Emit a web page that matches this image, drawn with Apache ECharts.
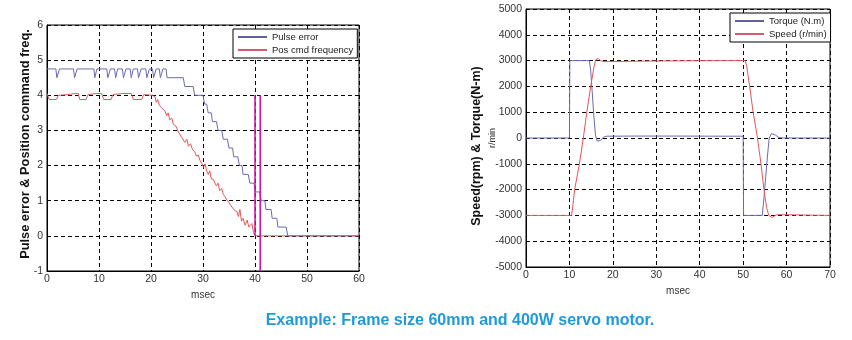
<!DOCTYPE html>
<html>
<head>
<meta charset="utf-8">
<style>
  html, body { margin: 0; padding: 0; background: #fff; }
  #chart { width: 852px; height: 340px; }
</style>
<script src="https://cdn.jsdelivr.net/npm/echarts@6/dist/echarts.min.js"></script>
</head>
<body>
<div id="chart"></div>
<script>
// ---- Left panel: pulse error and position command frequency (msec) ----
const leftXTicks = [0, 10, 20, 30, 40, 50, 60];
const leftYTicks = [-1, 0, 1, 2, 3, 4, 5, 6];

const pulseError = [
  [0, 4.75], [1.7, 4.75], [1.9, 4.5], [2.2, 4.5], [2.4, 4.75],
  [5.1, 4.75], [5.3, 4.5], [5.6, 4.5], [5.8, 4.75],
  [9.0, 4.75], [9.2, 4.5], [9.4, 4.5], [9.6, 4.75],
  [11.5, 4.75], [11.7, 4.5], [12.0, 4.5], [12.2, 4.75],
  [13.0, 4.75], [13.2, 4.5], [13.4, 4.5], [13.6, 4.75],
  [14.5, 4.75], [14.7, 4.5], [15.0, 4.5], [15.2, 4.75],
  [16.0, 4.75], [16.2, 4.5], [16.4, 4.5], [16.6, 4.75],
  [17.4, 4.75], [17.6, 4.5], [17.9, 4.5], [18.1, 4.75],
  [19.0, 4.75], [19.2, 4.5], [19.5, 4.5], [19.7, 4.75],
  [20.3, 4.75], [20.5, 4.5], [20.8, 4.5], [21.0, 4.75],
  [21.6, 4.75], [21.8, 4.5], [22.1, 4.5], [22.3, 4.75],
  [22.9, 4.75], [23.1, 4.5], [26.2, 4.5], [26.5, 4.25], [28.1, 4.25],
  [28.4, 4.0], [30.0, 4.0], [30.3, 3.75], [30.7, 3.75], [31.0, 3.5],
  [31.6, 3.5], [31.8, 3.25], [32.6, 3.25], [32.9, 3.0], [33.6, 3.0],
  [33.9, 2.75], [34.7, 2.75], [35.0, 2.5], [35.7, 2.5], [35.9, 2.25],
  [36.7, 2.25], [37.0, 2.0], [37.5, 2.0], [37.7, 1.75], [38.7, 1.75],
  [39.0, 1.5], [39.8, 1.5], [40.1, 1.25], [40.9, 1.25], [41.2, 1.0],
  [41.9, 1.0], [42.1, 0.75], [43.1, 0.75], [43.3, 0.5], [44.2, 0.5],
  [44.4, 0.25], [46.0, 0.25], [46.3, 0], [60, 0]
];

const posCmdFreq = [
  [0, 4.05], [0.4, 3.88], [1.8, 3.88], [2.2, 4.0], [4.0, 4.02], [5.5, 4.05],
  [6.0, 4.05], [6.3, 3.88], [7.5, 3.88], [7.9, 4.02], [9.5, 4.05], [10.5, 4.05],
  [10.9, 3.88], [12.3, 3.88], [12.7, 4.02], [14.5, 4.05], [16.2, 4.05],
  [16.6, 3.88], [18.2, 3.88], [18.6, 4.02], [20.3, 4.0],
  [20.8, 3.95], [21.0, 3.8], [21.3, 3.88], [21.6, 3.72], [22.0, 3.65],
  [22.3, 3.6], [22.7, 3.55], [23.0, 3.42], [23.3, 3.5], [23.6, 3.3],
  [24.0, 3.35], [24.3, 3.17], [24.8, 3.12], [25.3, 2.95], [25.6, 3.0],
  [25.9, 2.8], [26.2, 2.85], [26.5, 2.66], [26.9, 2.75], [27.2, 2.55],
  [27.6, 2.62], [28.0, 2.45], [28.4, 2.4], [28.7, 2.27], [29.1, 2.3],
  [29.4, 2.15], [29.8, 2.05], [30.1, 1.95], [30.4, 2.05], [30.7, 1.85],
  [31.0, 1.75], [31.3, 1.85], [31.6, 1.62], [32.0, 1.6], [32.3, 1.5],
  [32.6, 1.42], [32.9, 1.5], [33.2, 1.28], [33.6, 1.35], [33.9, 1.18],
  [34.3, 1.1], [34.6, 1.02], [35.0, 0.95], [35.4, 0.85], [35.7, 0.9],
  [36.1, 0.72], [36.5, 0.7], [36.8, 0.55], [37.1, 0.75], [37.4, 0.42],
  [37.7, 0.5], [38.1, 0.3], [38.5, 0.45], [38.8, 0.25], [39.1, 0.2],
  [39.4, 0.35], [39.7, 0.1], [40.0, 0], [60, 0]
];

// command pulse edges
const cmdEdgeA = [[40, 4], [40, 0]];
const cmdEdgeB = [[41, 4], [41, -1]];

// ---- Right panel: torque and speed (msec) ----
const rightXTicks = [0, 10, 20, 30, 40, 50, 60, 70];
const rightYTicks = [-5000, -4000, -3000, -2000, -1000, 0, 1000, 2000, 3000, 4000, 5000];

const torque = [
  [0, 0], [10.0, 0], [10.1, 3000], [14.6, 3000], [14.9, 2600], [15.2, 1900],
  [15.6, 900], [16.0, 100], [16.4, -120], [16.8, -160], [17.2, -90],
  [17.8, 30], [18.6, 70], [25, 75], [35, 75], [45, 70], [50.0, 70],
  [50.1, -3000], [54.4, -3000], [54.8, -2300], [55.2, -1500], [55.6, -700],
  [56.0, 0], [56.5, 170], [56.9, 200], [57.4, 120], [58.2, 20], [59.2, 0], [70, 0]
];

const speed = [
  [0, -3000], [10.5, -3000], [10.8, -2600], [11.2, -2000], [12.3, -1000],
  [13.2, 0], [14.0, 1000], [14.9, 2000], [15.7, 2800], [16.1, 3040],
  [16.6, 3080], [17.1, 3010], [17.7, 2960], [20, 2965], [30, 2985],
  [40, 2995], [50.5, 3000], [50.8, 2800], [51.5, 2000], [52.3, 1000],
  [53.3, 0], [54.1, -1000], [54.8, -2000], [55.4, -2700], [55.9, -3000],
  [56.6, -3080], [57.2, -3020], [57.9, -2970], [62, -2980], [70, -3000]
];

const FONT = '"Liberation Sans", Arial, sans-serif';
const BLUE = '#6a6ab4';
const RED = '#e2585c';
const MAGENTA = '#cc1aa0';

function gridLine() {
  return { show: true, lineStyle: { color: '#000', width: 1, type: [4, 3] } };
}
function valueAxis(ticks, gridIndex, isX, extra) {
  return Object.assign({
    type: 'value',
    gridIndex: gridIndex,
    min: ticks[0],
    max: ticks[ticks.length - 1],
    interval: ticks[1] - ticks[0],
    axisLine: { show: true, onZero: false, lineStyle: { color: '#000', width: 1 } },
    axisTick: { show: false },
    splitLine: gridLine(),
    axisLabel: {
      color: '#333', fontSize: 10.5, fontFamily: FONT,
      margin: isX ? 3 : 4, showMinLabel: true, showMaxLabel: true,
      formatter: function (v) { return String(v); }
    }
  }, extra || {});
}

const chart = echarts.init(document.getElementById('chart'), null, { renderer: 'canvas' });

chart.setOption({
  animation: false,
  backgroundColor: '#fff',
  grid: [
    { left: 47, top: 25, width: 312, height: 246, show: true, borderColor: '#000', borderWidth: 1, outerBoundsMode: 'none' },
    { left: 526, top: 9, width: 304, height: 258, show: true, borderColor: '#000', borderWidth: 1, outerBoundsMode: 'none' }
  ],
  xAxis: [
    valueAxis(leftXTicks, 0, true, {
      name: 'msec', nameLocation: 'middle', nameGap: 16,
      nameTextStyle: { color: '#333', fontSize: 10, fontFamily: FONT }
    }),
    valueAxis(rightXTicks, 1, true, {
      name: 'msec', nameLocation: 'middle', nameGap: 15,
      nameTextStyle: { color: '#333', fontSize: 10, fontFamily: FONT }
    })
  ],
  yAxis: [
    valueAxis(leftYTicks, 0, false),
    valueAxis(rightYTicks, 1, false)
  ],
  legend: [
    {
      data: [
        { name: 'Pulse error', itemStyle: { color: '#2c2c78' } },
        { name: 'Pos cmd frequency', itemStyle: { color: '#cc2240' } }
      ],
      left: 233, top: 29, orient: 'vertical', icon: 'rect',
      itemWidth: 29, itemHeight: 1.5, itemGap: 3,
      backgroundColor: '#fff', borderColor: '#000', borderWidth: 1, borderRadius: 0,
      padding: [3, 4, 3, 5],
      textStyle: { color: '#222', fontSize: 9.5, fontFamily: FONT }
    },
    {
      data: [
        { name: 'Torque (N.m)', itemStyle: { color: '#2c2c78' } },
        { name: 'Speed (r/min)', itemStyle: { color: '#cc2240' } }
      ],
      left: 730, top: 13, orient: 'vertical', icon: 'rect',
      itemWidth: 29, itemHeight: 1.5, itemGap: 3,
      backgroundColor: '#fff', borderColor: '#000', borderWidth: 1, borderRadius: 0,
      padding: [3, 4, 3, 5],
      textStyle: { color: '#222', fontSize: 9.5, fontFamily: FONT }
    }
  ],
  series: [
    {
      name: 'Pulse error', type: 'line', xAxisIndex: 0, yAxisIndex: 0,
      data: pulseError, showSymbol: false, symbol: 'none',
      lineStyle: { color: BLUE, width: 1 }, itemStyle: { color: BLUE }, z: 3
    },
    {
      name: 'Pos cmd frequency', type: 'line', xAxisIndex: 0, yAxisIndex: 0,
      data: posCmdFreq, showSymbol: false, symbol: 'none',
      lineStyle: { color: RED, width: 1 }, itemStyle: { color: RED }, z: 4
    },
    {
      name: 'cmdEdgeA', type: 'line', xAxisIndex: 0, yAxisIndex: 0,
      data: cmdEdgeA, showSymbol: false, symbol: 'none',
      lineStyle: { color: MAGENTA, width: 1.6 }, z: 5
    },
    {
      name: 'cmdEdgeB', type: 'line', xAxisIndex: 0, yAxisIndex: 0,
      data: cmdEdgeB, showSymbol: false, symbol: 'none',
      lineStyle: { color: MAGENTA, width: 1.6 }, z: 5
    },
    {
      name: 'Torque (N.m)', type: 'line', xAxisIndex: 1, yAxisIndex: 1,
      data: torque, showSymbol: false, symbol: 'none',
      lineStyle: { color: BLUE, width: 1 }, itemStyle: { color: BLUE }, z: 3
    },
    {
      name: 'Speed (r/min)', type: 'line', xAxisIndex: 1, yAxisIndex: 1,
      data: speed, showSymbol: false, symbol: 'none',
      lineStyle: { color: RED, width: 1 }, itemStyle: { color: RED }, z: 4
    }
  ],
  graphic: [
    {
      type: 'text', x: 25, y: 144, rotation: Math.PI / 2,
      style: {
        text: 'Pulse error & Position command freq.',
        font: 'bold 12.8px ' + FONT, fill: '#111',
        textAlign: 'center', textVerticalAlign: 'middle'
      }
    },
    {
      type: 'text', x: 477, y: 146, rotation: Math.PI / 2,
      style: {
        text: 'Speed(rpm) & Torque(N-m)',
        font: 'bold 12.5px ' + FONT, fill: '#111',
        textAlign: 'center', textVerticalAlign: 'middle'
      }
    },
    {
      type: 'text', x: 493, y: 138, rotation: Math.PI / 2,
      style: {
        text: 'r/min',
        font: '9px ' + FONT, fill: '#333',
        textAlign: 'center', textVerticalAlign: 'middle'
      }
    },
    {
      type: 'text', x: 460, y: 321,
      style: {
        text: 'Example: Frame size 60mm and 400W servo motor.',
        font: 'bold 16px ' + FONT, fill: '#1e9ad8',
        textAlign: 'center', textVerticalAlign: 'middle'
      }
    }
  ]
});
</script>
</body>
</html>
